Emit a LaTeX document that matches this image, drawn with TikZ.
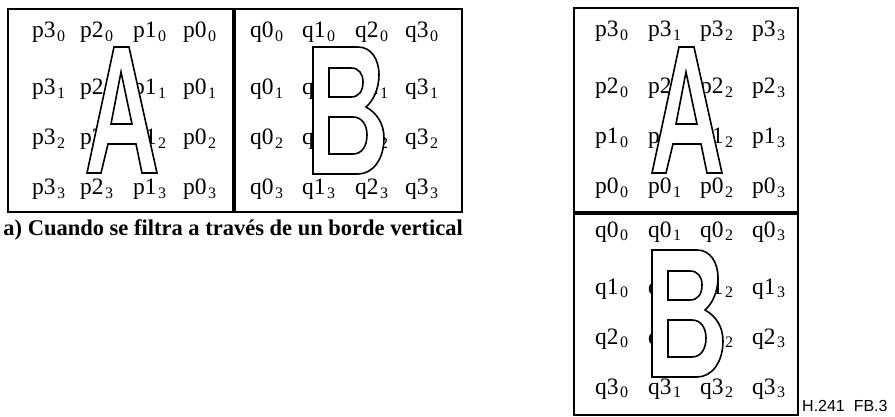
\documentclass[tikz,border=0pt]{standalone}
\usepackage{fontspec}
\setmainfont{Liberation Serif}
\newfontfamily\hsans{Liberation Sans}
\newcommand{\lbl}[2]{#1\hspace{1.5pt}\raisebox{-3.5pt}{\fontsize{16}{16}\selectfont #2}}
\tikzset{
  lab/.style={anchor=base west, inner sep=0pt, font=\fontsize{23.5}{26}\selectfont},
  frame/.style={line width=2pt},
  divider/.style={line width=4.5pt},
  glyph/.style={draw=black, line width=1.6pt, line join=miter},
  letterA/.pic={
    \fill[white] (27,0) -- (42,0) -- (70,126) -- (0,126) -- cycle;
    \path[glyph] (27,0) -- (42,0) -- (70,126) -- (55,126) -- (49,97) -- (21,97) -- (14,126) -- (0,126) -- cycle
      (34,25) -- (24,77) -- (45,77) -- cycle;
  },
  letterB/.pic={
    \fill[white] (0,0) -- (45,0) .. controls (58,0) and (66,12) .. (66,28) .. controls (66,42) and (60,54) .. (53,60)
      .. controls (64,66) and (71,77) .. (71,91) .. controls (71,112) and (60,127) .. (45,127) -- (0,127) -- cycle;
    \path[glyph] (0,0) -- (45,0) .. controls (58,0) and (66,12) .. (66,28) .. controls (66,42) and (60,54) .. (53,60)
      .. controls (64,66) and (71,77) .. (71,91) .. controls (71,112) and (60,127) .. (45,127) -- (0,127) -- cycle
      (16,21) -- (38,21) .. controls (46,21) and (50,27) .. (50,35) .. controls (50,44) and (46,50) .. (38,50) -- (16,50) -- cycle
      (16,70) -- (40,70) .. controls (49,70) and (54,78) .. (54,88) .. controls (54,99) and (49,107) .. (40,107) -- (16,107) -- cycle;
  }
}
\begin{document}
\begin{tikzpicture}[x=1pt,y=-1pt]
\useasboundingbox (0,0) rectangle (895,417);
% left figure frame
\draw[frame] (8,9) rectangle (462,212);
\draw[divider] (234,9) -- (234,212);
% right figure frame
\draw[frame] (574,8) rectangle (798,415);
\draw[divider] (574,213) -- (798,213);
% left: A block labels
\foreach \r/\y in {0/38,1/95,2/145,3/195}{
  \foreach \c/\x/\n in {0/32/3,1/80/2,2/133/1,3/183/0}{
    \node[lab] (la-\r-\c) at (\x,\y) {\lbl{p\n}{\r}};
  }
}
% left: B block labels
\foreach \r/\y in {0/38,1/95,2/145,3/195}{
  \foreach \c/\x in {0/250,1/302,2/355,3/405}{
    \node[lab] (lb-\r-\c) at (\x,\y) {\lbl{q\c}{\r}};
  }
}
% right: A block labels
\foreach \r/\y/\n in {0/37/3,1/94/2,2/144/1,3/194/0}{
  \foreach \c/\x in {0/595,1/648,2/700,3/752}{
    \node[lab] (ra-\r-\c) at (\x,\y) {\lbl{p\n}{\c}};
  }
}
% right: B block labels
\foreach \r/\y in {0/237,1/294,2/344,3/394}{
  \foreach \c/\x in {0/595,1/648,2/700,3/752}{
    \node[lab] (rb-\r-\c) at (\x,\y) {\lbl{q\r}{\c}};
  }
}
% letters
\pic (gA1) at (87,47) {letterA};
\pic (gB1) at (313,47) {letterB};
\pic (gA2) at (652,47) {letterA};
\pic (gB2) at (652,250) {letterB};
% captions
\node[anchor=base east, inner sep=0pt, font=\bfseries\fontsize{22.5}{26}\selectfont] (cap) at (463,236) {a) Cuando se filtra a través de un borde vertical};
\node[anchor=base west, inner sep=0pt, font=\hsans\fontsize{16}{18}\selectfont] (fig) at (802,411) {H.241\ \ FB.3};
\end{tikzpicture}
\end{document}
